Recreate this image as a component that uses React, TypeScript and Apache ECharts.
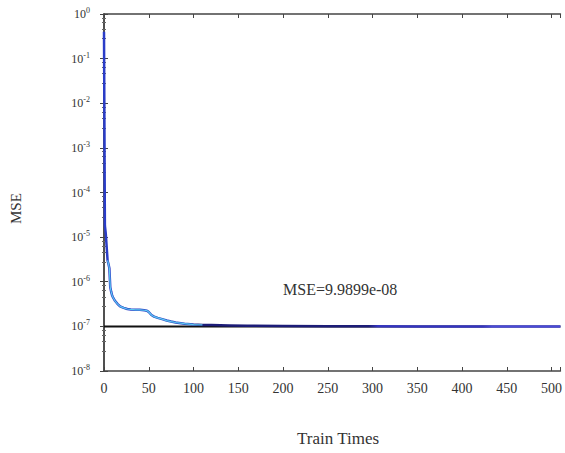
import React, { useEffect, useRef } from "react";
import * as echarts from "echarts";

// Training iterations and the recorded mean squared error at each one
const epochs = [0, 1, 2, 3, 4, 5, 6, 7, 8, 9, 10, 12, 15, 18, 22, 26, 30, 35, 40, 45, 48, 50, 53, 56, 60, 65, 70, 75, 80, 90, 100, 110, 120, 130, 140, 160, 200, 250, 300, 350, 400, 430, 470, 510];
const mse = [0.4, 1.8e-5, 1.2e-5, 6e-6, 3e-6, 2.5e-6, 2.0e-6, 7.5e-7, 6e-7, 5e-7, 4.5e-7, 3.8e-7, 3.2e-7, 2.8e-7, 2.6e-7, 2.45e-7, 2.4e-7, 2.35e-7, 2.35e-7, 2.3e-7, 2.25e-7, 2.1e-7, 1.8e-7, 1.65e-7, 1.55e-7, 1.45e-7, 1.35e-7, 1.28e-7, 1.22e-7, 1.15e-7, 1.1e-7, 1.08e-7, 1.07e-7, 1.06e-7, 1.05e-7, 1.03e-7, 1.02e-7, 1.01e-7, 1.005e-7, 1.0e-7, 9.995e-8, 9.993e-8, 9.99e-8, 9.9899e-8];

// Performance goal
const goal = 1e-7;
const goalRange = [0, 510];

// Axis settings
const xTicks = { min: 0, max: 510, interval: 50 };
const yRange = { min: 1e-8, max: 1 };
const finalLabel = "MSE=9.9899e-08";

const SERIF = "'Liberation Serif', 'Times New Roman', serif";
const TEXT = "#333";

export default function App() {
  const ref = useRef<HTMLDivElement>(null);

  useEffect(() => {
    if (!ref.current) return;
    document.body.style.margin = "0";
    const chart = echarts.init(ref.current, undefined, { renderer: "svg" });

    const curve = epochs.map((e, i) => [e, mse[i]]);
    const earlyCurve = curve.filter(([e]) => e >= 4 && e <= 110);

    const supLabel = (v: number) => {
      const e = Math.round(Math.log10(v));
      return `{b|10}{s|${e}}`;
    };

    const axisLineStyle = { lineStyle: { color: "#444", width: 1.5 } };

    chart.setOption({
      animation: false,
      grid: { left: 104, right: 4, top: 14, bottom: 82, containLabel: false },
      xAxis: [
        {
          type: "value",
          position: "bottom",
          min: xTicks.min,
          max: xTicks.max,
          interval: xTicks.interval,
          axisLine: axisLineStyle,
          axisTick: { inside: true, length: 4, lineStyle: { color: "#444" } },
          splitLine: { show: false },
          axisLabel: {
            margin: 10,
            formatter: (v: number) => (v % xTicks.interval === 0 ? String(v) : ""),
            fontFamily: SERIF,
            fontSize: 14,
            color: TEXT,
          },
        },
        {
          type: "value",
          position: "top",
          min: xTicks.min,
          max: xTicks.max,
          interval: xTicks.interval,
          axisLine: axisLineStyle,
          axisTick: { inside: true, length: 4, lineStyle: { color: "#444" } },
          splitLine: { show: false },
          axisLabel: { show: false },
        },
      ],
      yAxis: [
        {
          type: "log",
          logBase: 10,
          position: "left",
          min: yRange.min,
          max: yRange.max,
          axisLine: axisLineStyle,
          axisTick: { inside: true, length: 4, lineStyle: { color: "#444" } },
          minorTick: { show: true, splitNumber: 5, length: 2, lineStyle: { color: "#666" } },
          splitLine: { show: false },
          axisLabel: {
            margin: 14,
            formatter: supLabel,
            rich: {
              b: { fontFamily: SERIF, fontSize: 12, color: TEXT },
              s: { fontFamily: SERIF, fontSize: 8, color: TEXT, padding: [0, 0, 7, 0] },
            },
          },
        },
        {
          type: "log",
          logBase: 10,
          position: "right",
          min: yRange.min,
          max: yRange.max,
          axisLine: axisLineStyle,
          axisTick: { inside: true, length: 4, lineStyle: { color: "#444" } },
          minorTick: { show: true, splitNumber: 5, length: 2, lineStyle: { color: "#666" } },
          splitLine: { show: false },
          axisLabel: { show: false },
        },
      ],
      series: [
        {
          name: "Goal",
          type: "line",
          data: goalRange.map((x) => [x, goal]),
          symbol: "none",
          z: 2,
          lineStyle: { color: "#111", width: 2 },
        },
        {
          name: "Train",
          type: "line",
          data: curve,
          symbol: "none",
          z: 3,
          lineStyle: {
            width: 2.5,
            color: new echarts.graphic.LinearGradient(0, 0, 1, 0, [
              { offset: 0, color: "#2a3cc8" },
              { offset: 0.19, color: "#3050c4" },
              { offset: 0.21, color: "#1c1c78" },
              { offset: 0.58, color: "#1c1c78" },
              { offset: 0.6, color: "#3434c0" },
              { offset: 0.83, color: "#3434c0" },
              { offset: 0.85, color: "#4a4ad8" },
              { offset: 1, color: "#4a4ad8" },
            ]),
          },
        },
        {
          name: "Train detail",
          type: "line",
          data: earlyCurve,
          symbol: "none",
          z: 4,
          lineStyle: { width: 1.2, color: "#5ccaf2" },
        },
      ],
      graphic: [
        {
          type: "text",
          left: 283,
          top: 281,
          style: { text: finalLabel, font: `16px ${SERIF}`, fill: TEXT },
        },
        {
          type: "text",
          left: 297,
          top: 430,
          style: { text: "Train Times", font: `17px ${SERIF}`, fill: TEXT },
        },
        {
          type: "text",
          x: 8,
          y: 224,
          rotation: Math.PI / 2,
          style: { text: "MSE", font: `15px ${SERIF}`, fill: TEXT },
        },
      ],
    });

    return () => chart.dispose();
  }, []);

  return <div ref={ref} style={{ width: 565, height: 453 }} />;
}
